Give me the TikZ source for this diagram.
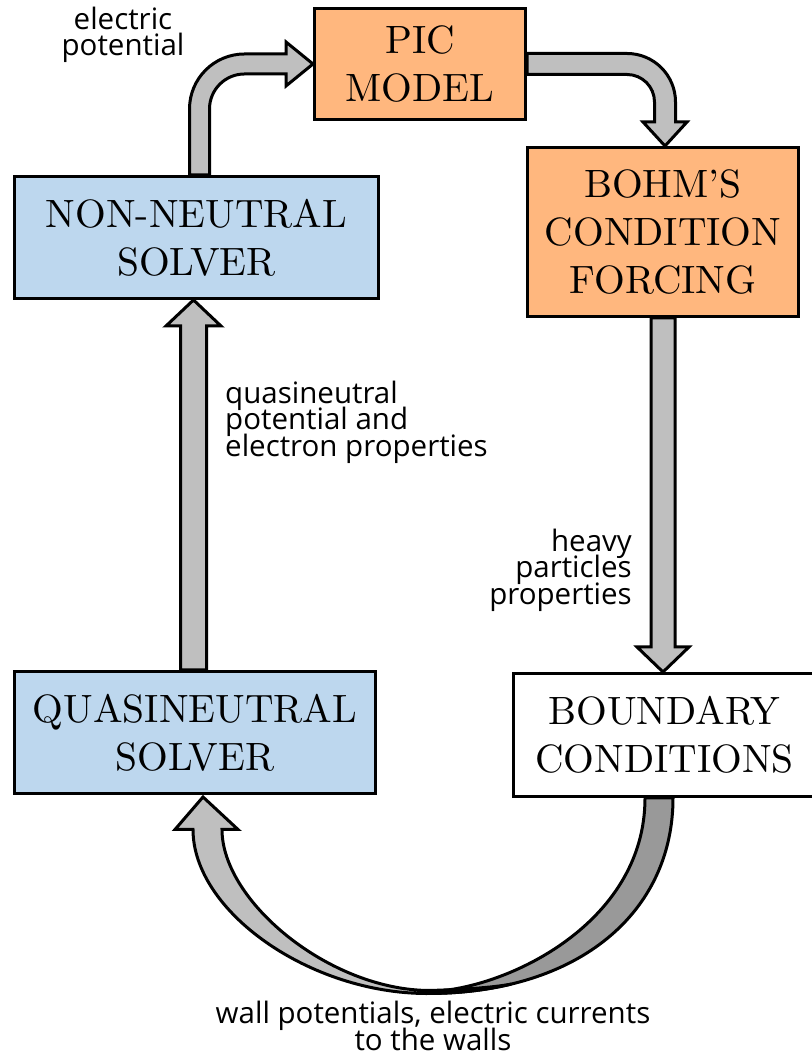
\documentclass[tikz,border=0pt]{standalone}
\usepackage{fontspec}
\newfontfamily\labfont{Open Sans}
\newfontfamily\boxfont{lmroman10-regular}[Extension=.otf]
\usetikzlibrary{calc,backgrounds}
\definecolor{boxblue}{HTML}{BDD7EE}
\definecolor{boxorange}{HTML}{FFB77E}
\definecolor{arrowgray}{HTML}{BFBFBF}
\definecolor{arrowdark}{HTML}{999999}
\begin{document}
\lineskiplimit=-100pt\relax
\begin{tikzpicture}[x=1pt,y=1pt,
  box/.style={draw=black,line width=3pt,inner sep=0pt,align=center,
    font=\boxfont\fontsize{39.5}{48}\selectfont},
  bigarrow/.style={draw=black,line width=3pt,fill=arrowgray,line join=miter},
  darkarrow/.style={draw=black,line width=3pt,fill=arrowdark,line join=miter},
  lab/.style={inner sep=0pt,font=\labfont\fontsize{29.5}{26.5}\selectfont}]
\useasboundingbox (0,0) rectangle (811,1056);

% boxes
\node[box,fill=boxorange,minimum width=211,minimum height=111] (pic) at (420,992) {PIC\\MODEL};
\node[box,fill=boxblue,minimum width=364,minimum height=122] (nn) at (196.5,818.5) {NON-NEUTRAL\\SOLVER};
\node[box,fill=boxorange,minimum width=271,minimum height=169] (bohm) at (663,824) {BOHM’S\\CONDITION\\FORCING};
\node[box,fill=boxblue,minimum width=361,minimum height=122] (qn) at (195,323.5) {QUASINEUTRAL\\SOLVER};
\node[box,fill=white,minimum width=302,minimum height=123] (bc) at (664.5,321) {BOUNDARY\\CONDITIONS};

% labels
\node[lab,align=center] (l1) at (123,1021) {electric\\potential};
\node[lab,align=left,anchor=west] (l2) at (225,634) {quasineutral\\potential and\\electron properties};
\node[lab,align=right,anchor=east] (l3) at (632,486) {heavy\\particles\\properties};
\node[lab,align=center] (l4) at (433,30) {wall potentials, electric currents\\to the walls};

\begin{pgfonlayer}{background}
% non-neutral -> PIC
\draw[bigarrow] let \p1=($(nn.north)+(3,0)$), \p2=(pic.west) in
  (\x1-10pt,\y1) -- (\x1-10pt,\y2-45pt)
  .. controls (\x1-10pt,\y2-14.6pt) and (\x1+14.6pt,\y2+10pt) .. (\x1+45pt,\y2+10pt)
  -- (\x2-27pt,\y2+10pt) -- (\x2-27pt,\y2+22pt) -- (\x2,\y2) -- (\x2-27pt,\y2-22pt)
  -- (\x2-27pt,\y2-10pt) -- (\x1+45pt,\y2-10pt)
  .. controls (\x1+25.7pt,\y2-10pt) and (\x1+10pt,\y2-25.7pt) .. (\x1+10pt,\y2-45pt)
  -- (\x1+10pt,\y1) -- cycle;
% PIC -> Bohm
\draw[bigarrow] let \p1=(pic.east), \p2=($(bohm.north)+(2,0)$) in
  (\x1,\y1+10.5pt) -- (\x2-38pt,\y1+10.5pt)
  .. controls (\x2-11.2pt,\y1+10.5pt) and (\x2+10.5pt,\y1-11.2pt) .. (\x2+10.5pt,\y1-38pt)
  -- (\x2+10.5pt,\y2+24pt) -- (\x2+22pt,\y2+24pt) -- (\x2,\y2) -- (\x2-22pt,\y2+24pt)
  -- (\x2-10.5pt,\y2+24pt) -- (\x2-10.5pt,\y1-38pt)
  .. controls (\x2-10.5pt,\y1-22.8pt) and (\x2-22.8pt,\y1-10.5pt) .. (\x2-38pt,\y1-10.5pt)
  -- (\x1,\y1-10.5pt) -- cycle;
% Bohm -> boundary
\draw[bigarrow] let \p1=(bohm.south), \p2=(bc.north) in
  (\x1-12pt,\y1) -- (\x1-12pt,\y2+25pt) -- (\x1-26pt,\y2+25pt) -- (\x1,\y2)
  -- (\x1+26pt,\y2+25pt) -- (\x1+12pt,\y2+25pt) -- (\x1+12pt,\y1) -- cycle;
% quasineutral -> non-neutral
\draw[bigarrow] let \p1=($(qn.north)+(-1.5,0)$), \p2=(nn.south) in
  (\x1-13pt,\y1) -- (\x1-13pt,\y2-26pt) -- (\x1-27.5pt,\y2-26pt) -- (\x1,\y2)
  -- (\x1+27.5pt,\y2-26pt) -- (\x1+13pt,\y2-26pt) -- (\x1+13pt,\y1) -- cycle;
% boundary -> quasineutral (curved ribbon): back part
\begin{scope}[shift={(bc.south)},yscale=-1]
\draw[darkarrow] (-19.5,0)
  .. controls (-19.5,128.5) and (-164.5,193.5) .. (-237.5,193.5)
  -- (-237.5,195.5)
  .. controls (-84.5,195.5) and (8.5,113.5) .. (8.5,0) -- cycle;
\end{scope}
% front part with head
\begin{scope}[shift={(qn.south)},yscale=-1]
\draw[bigarrow] (8,2) -- (43,34.5) -- (27,34.5)
  .. controls (27,106.5) and (135,195.5) .. (235,195.5)
  .. controls (265,194.5) and (295,193) .. (316.3,189.1)
  .. controls (290.8,195.2) and (262.6,198.5) .. (232,198.5)
  .. controls (115,198.5) and (-2,116.5) .. (-2,34.5)
  -- (-20,34.5) -- cycle;
\end{scope}
\end{pgfonlayer}
\end{tikzpicture}
\end{document}
